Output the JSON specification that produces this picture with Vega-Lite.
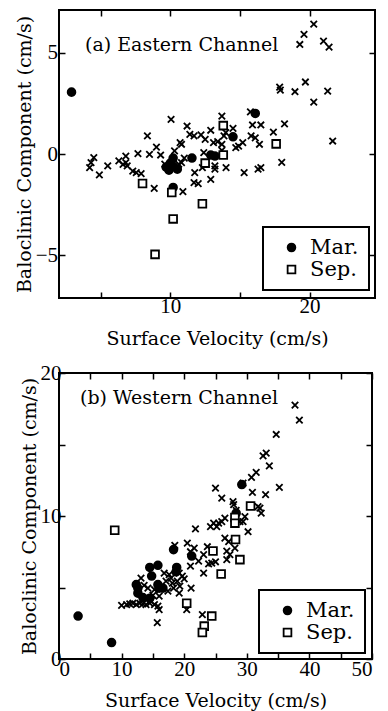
{
  "$schema": "https://vega.github.io/schema/vega-lite/v6.json",
  "padding": {"left": 14, "top": 8, "right": 0, "bottom": 0},
  "config": {
    "view": {"stroke": "black", "strokeWidth": 2},
    "font": "DejaVu Serif",
    "axis": {"domain": false, "grid": false, "labelFont": "Liberation Serif", "labelFontSize": 21, "labelColor": "black", "titleFont": "DejaVu Serif", "titleFontSize": 19, "titleFontWeight": "normal", "titleColor": "black", "tickColor": "black", "tickSize": -6, "tickWidth": 1.5, "labelPadding": 8},
    "legend": {"padding": 10, "strokeColor": "black", "strokeWidth": 2, "fillColor": "white", "labelFont": "DejaVu Serif", "labelFontSize": 21, "labelColor": "black", "labelOffset": 8, "rowPadding": 0, "symbolSize": 60, "symbolStrokeColor": "black", "symbolStrokeWidth": 1.8, "symbolOffset": 8},
    "title": {"font": "DejaVu Serif", "fontSize": 19, "fontWeight": "normal", "color": "black"}
  },
  "datasets": {
    "east": [
      {"x": 2.9, "y": 3.05, "type": "Mar."}, {"x": 16.1, "y": 2.0, "type": "Mar."}, {"x": 14.5, "y": 0.85, "type": "Mar."}, {"x": 11.55, "y": -0.2, "type": "Mar."}, {"x": 12.9, "y": -0.05, "type": "Mar."}, {"x": 13.2, "y": -0.1, "type": "Mar."}, {"x": 10.0, "y": -0.45, "type": "Mar."}, {"x": 10.2, "y": -0.6, "type": "Mar."}, {"x": 10.5, "y": -0.75, "type": "Mar."}, {"x": 9.7, "y": -0.65, "type": "Mar."}, {"x": 10.2, "y": -0.2, "type": "Mar."}, {"x": 10.2, "y": -1.65, "type": "Mar."}, {"x": 9.9, "y": -0.8, "type": "Mar."},
      {"x": 13.8, "y": 1.4, "type": "Sep."}, {"x": 17.6, "y": 0.5, "type": "Sep."}, {"x": 12.5, "y": -0.45, "type": "Sep."}, {"x": 13.8, "y": -0.05, "type": "Sep."}, {"x": 8.0, "y": -1.45, "type": "Sep."}, {"x": 10.1, "y": -1.9, "type": "Sep."}, {"x": 12.3, "y": -2.45, "type": "Sep."}, {"x": 10.2, "y": -3.2, "type": "Sep."}, {"x": 8.9, "y": -4.95, "type": "Sep."},
      {"x": 19.3, "y": 5.4, "type": "other"}, {"x": 19.6, "y": 5.9, "type": "other"}, {"x": 20.3, "y": 6.4, "type": "other"}, {"x": 21.0, "y": 5.57, "type": "other"}, {"x": 21.4, "y": 5.27, "type": "other"},
      {"x": 17.85, "y": 3.3, "type": "other"}, {"x": 17.9, "y": 3.15, "type": "other"}, {"x": 18.95, "y": 3.07, "type": "other"}, {"x": 19.7, "y": 3.55, "type": "other"}, {"x": 21.3, "y": 3.1, "type": "other"}, {"x": 20.3, "y": 2.56, "type": "other"}, {"x": 21.66, "y": 0.64, "type": "other"},
      {"x": 15.75, "y": 2.08, "type": "other"}, {"x": 13.7, "y": 1.87, "type": "other"}, {"x": 10.05, "y": 1.71, "type": "other"}, {"x": 11.2, "y": 1.38, "type": "other"}, {"x": 14.5, "y": 1.26, "type": "other"}, {"x": 15.9, "y": 1.43, "type": "other"}, {"x": 16.5, "y": 1.43, "type": "other"}, {"x": 18.2, "y": 1.49, "type": "other"}, {"x": 17.4, "y": 1.08, "type": "other"},
      {"x": 15.8, "y": 0.89, "type": "other"}, {"x": 16.1, "y": 0.8, "type": "other"}, {"x": 16.4, "y": 0.48, "type": "other"}, {"x": 8.35, "y": 0.89, "type": "other"}, {"x": 9.0, "y": 0.34, "type": "other"}, {"x": 10.7, "y": 0.56, "type": "other"},
      {"x": 11.4, "y": 0.97, "type": "other"}, {"x": 11.7, "y": 0.89, "type": "other"}, {"x": 12.2, "y": 0.94, "type": "other"}, {"x": 12.5, "y": 0.72, "type": "other"}, {"x": 12.9, "y": 1.17, "type": "other"}, {"x": 13.85, "y": 0.89, "type": "other"}, {"x": 13.98, "y": 1.05, "type": "other"},
      {"x": 13.1, "y": 0.56, "type": "other"}, {"x": 13.4, "y": 0.61, "type": "other"}, {"x": 13.7, "y": 0.48, "type": "other"}, {"x": 15.2, "y": 0.56, "type": "other"}, {"x": 14.9, "y": 0.39, "type": "other"}, {"x": 14.7, "y": 0.31, "type": "other"}, {"x": 10.8, "y": 0.48, "type": "other"},
      {"x": 7.67, "y": 0.02, "type": "other"}, {"x": 8.5, "y": -0.02, "type": "other"}, {"x": 6.8, "y": -0.1, "type": "other"}, {"x": 4.5, "y": -0.18, "type": "other"}, {"x": 4.3, "y": -0.43, "type": "other"}, {"x": 4.2, "y": -0.67, "type": "other"}, {"x": 4.9, "y": -1.03, "type": "other"}, {"x": 5.5, "y": -0.59, "type": "other"},
      {"x": 6.3, "y": -0.34, "type": "other"}, {"x": 6.6, "y": -0.51, "type": "other"}, {"x": 6.9, "y": -0.59, "type": "other"}, {"x": 6.8, "y": -0.43, "type": "other"}, {"x": 7.3, "y": -0.84, "type": "other"}, {"x": 7.9, "y": -0.97, "type": "other"}, {"x": 7.55, "y": -0.92, "type": "other"},
      {"x": 8.84, "y": -1.69, "type": "other"}, {"x": 9.3, "y": -0.05, "type": "other"}, {"x": 10.3, "y": 0.15, "type": "other"}, {"x": 10.8, "y": -0.43, "type": "other"}, {"x": 12.4, "y": 0.07, "type": "other"}, {"x": 13.7, "y": 0.18, "type": "other"}, {"x": 13.2, "y": -0.59, "type": "other"}, {"x": 13.2, "y": -0.75, "type": "other"}, {"x": 14.0, "y": -0.67, "type": "other"}, {"x": 12.3, "y": -0.67, "type": "other"}, {"x": 11.75, "y": -0.92, "type": "other"}, {"x": 12.9, "y": -1.25, "type": "other"}, {"x": 11.7, "y": -1.41, "type": "other"}, {"x": 12.0, "y": -1.46, "type": "other"}, {"x": 10.9, "y": -1.86, "type": "other"}, {"x": 15.3, "y": -0.92, "type": "other"}, {"x": 16.3, "y": -0.75, "type": "other"}, {"x": 18.0, "y": -0.41, "type": "other"}, {"x": 16.5, "y": -0.67, "type": "other"}, {"x": 9.6, "y": -0.5, "type": "other"}, {"x": 10.6, "y": -0.5, "type": "other"}, {"x": 11.0, "y": -0.2, "type": "other"}
    ],
    "west": [
      {"x": 3.05, "y": 3.0, "type": "Mar."}, {"x": 8.4, "y": 1.15, "type": "Mar."}, {"x": 29.2, "y": 12.2, "type": "Mar."}, {"x": 28.3, "y": 10.2, "type": "Mar."}, {"x": 18.3, "y": 7.65, "type": "Mar."}, {"x": 21.2, "y": 7.2, "type": "Mar."}, {"x": 14.5, "y": 6.4, "type": "Mar."}, {"x": 15.8, "y": 6.55, "type": "Mar."}, {"x": 18.8, "y": 6.4, "type": "Mar."}, {"x": 18.7, "y": 6.1, "type": "Mar."}, {"x": 14.8, "y": 5.8, "type": "Mar."}, {"x": 12.35, "y": 5.2, "type": "Mar."}, {"x": 12.6, "y": 4.6, "type": "Mar."}, {"x": 13.4, "y": 4.3, "type": "Mar."}, {"x": 14.5, "y": 4.25, "type": "Mar."}, {"x": 15.8, "y": 5.2, "type": "Mar."}, {"x": 16.0, "y": 4.95, "type": "Mar."}, {"x": 16.6, "y": 4.95, "type": "Mar."}, {"x": 12.6, "y": 4.95, "type": "Mar."},
      {"x": 8.9, "y": 9.0, "type": "Sep."}, {"x": 30.6, "y": 10.7, "type": "Sep."}, {"x": 28.1, "y": 9.9, "type": "Sep."}, {"x": 28.1, "y": 9.5, "type": "Sep."}, {"x": 28.2, "y": 8.35, "type": "Sep."}, {"x": 24.6, "y": 7.55, "type": "Sep."}, {"x": 28.9, "y": 6.95, "type": "Sep."}, {"x": 25.9, "y": 5.95, "type": "Sep."}, {"x": 20.4, "y": 3.9, "type": "Sep."}, {"x": 24.4, "y": 3.0, "type": "Sep."}, {"x": 23.2, "y": 2.3, "type": "Sep."}, {"x": 22.9, "y": 1.85, "type": "Sep."},
      {"x": 37.7, "y": 17.75, "type": "other"}, {"x": 38.4, "y": 16.7, "type": "other"}, {"x": 34.7, "y": 15.7, "type": "other"}, {"x": 32.6, "y": 14.2, "type": "other"}, {"x": 33.1, "y": 14.4, "type": "other"}, {"x": 33.6, "y": 13.5, "type": "other"}, {"x": 31.5, "y": 13.05, "type": "other"}, {"x": 30.75, "y": 12.7, "type": "other"}, {"x": 29.4, "y": 12.3, "type": "other"}, {"x": 35.2, "y": 12.0, "type": "other"}, {"x": 25.0, "y": 11.95, "type": "other"}, {"x": 30.9, "y": 11.65, "type": "other"}, {"x": 33.0, "y": 11.5, "type": "other"}, {"x": 26.0, "y": 11.25, "type": "other"}, {"x": 27.8, "y": 11.0, "type": "other"}, {"x": 27.9, "y": 10.8, "type": "other"}, {"x": 31.8, "y": 10.65, "type": "other"}, {"x": 32.1, "y": 10.55, "type": "other"}, {"x": 32.3, "y": 10.2, "type": "other"}, {"x": 28.3, "y": 10.4, "type": "other"},
      {"x": 26.5, "y": 9.85, "type": "other"}, {"x": 26.0, "y": 9.6, "type": "other"}, {"x": 25.5, "y": 9.5, "type": "other"}, {"x": 24.7, "y": 9.5, "type": "other"}, {"x": 24.2, "y": 9.25, "type": "other"}, {"x": 25.2, "y": 9.25, "type": "other"}, {"x": 29.4, "y": 9.6, "type": "other"}, {"x": 29.7, "y": 9.95, "type": "other"}, {"x": 28.9, "y": 9.6, "type": "other"}, {"x": 21.8, "y": 9.1, "type": "other"}, {"x": 30.2, "y": 8.9, "type": "other"}, {"x": 26.5, "y": 8.45, "type": "other"}, {"x": 27.1, "y": 8.2, "type": "other"},
      {"x": 18.5, "y": 7.95, "type": "other"}, {"x": 20.5, "y": 8.1, "type": "other"}, {"x": 21.6, "y": 7.75, "type": "other"}, {"x": 21.0, "y": 7.5, "type": "other"}, {"x": 23.1, "y": 7.3, "type": "other"}, {"x": 23.7, "y": 7.85, "type": "other"}, {"x": 26.8, "y": 7.55, "type": "other"}, {"x": 28.1, "y": 7.75, "type": "other"}, {"x": 27.3, "y": 7.3, "type": "other"},
      {"x": 21.0, "y": 6.5, "type": "other"}, {"x": 22.3, "y": 6.85, "type": "other"}, {"x": 23.9, "y": 6.65, "type": "other"}, {"x": 24.4, "y": 6.7, "type": "other"}, {"x": 25.0, "y": 6.8, "type": "other"}, {"x": 26.8, "y": 6.95, "type": "other"}, {"x": 23.1, "y": 6.0, "type": "other"},
      {"x": 16.8, "y": 6.0, "type": "other"}, {"x": 17.6, "y": 5.9, "type": "other"}, {"x": 17.9, "y": 5.65, "type": "other"}, {"x": 19.2, "y": 6.0, "type": "other"}, {"x": 19.7, "y": 5.8, "type": "other"}, {"x": 20.0, "y": 5.6, "type": "other"}, {"x": 17.1, "y": 5.45, "type": "other"}, {"x": 18.1, "y": 5.3, "type": "other"}, {"x": 18.9, "y": 5.45, "type": "other"}, {"x": 17.4, "y": 4.75, "type": "other"}, {"x": 18.3, "y": 4.95, "type": "other"}, {"x": 19.3, "y": 5.1, "type": "other"}, {"x": 19.2, "y": 4.6, "type": "other"}, {"x": 21.1, "y": 4.95, "type": "other"},
      {"x": 13.1, "y": 5.65, "type": "other"}, {"x": 13.6, "y": 5.15, "type": "other"}, {"x": 14.2, "y": 4.95, "type": "other"}, {"x": 15.25, "y": 4.85, "type": "other"}, {"x": 15.0, "y": 4.45, "type": "other"}, {"x": 16.0, "y": 4.4, "type": "other"},
      {"x": 10.0, "y": 3.75, "type": "other"}, {"x": 10.8, "y": 3.8, "type": "other"}, {"x": 11.3, "y": 3.85, "type": "other"}, {"x": 11.8, "y": 3.9, "type": "other"}, {"x": 12.35, "y": 3.8, "type": "other"}, {"x": 12.9, "y": 3.9, "type": "other"}, {"x": 13.4, "y": 3.85, "type": "other"}, {"x": 13.9, "y": 3.8, "type": "other"}, {"x": 14.5, "y": 3.9, "type": "other"}, {"x": 14.7, "y": 4.05, "type": "other"}, {"x": 15.25, "y": 3.8, "type": "other"}, {"x": 15.8, "y": 3.7, "type": "other"}, {"x": 16.0, "y": 3.45, "type": "other"}, {"x": 15.7, "y": 2.55, "type": "other"}, {"x": 20.4, "y": 3.45, "type": "other"}, {"x": 22.9, "y": 3.1, "type": "other"}
    ]
  },
  "columns": 1,
  "spacing": 12,
  "resolve": {"scale": {"shape": "independent", "fill": "independent", "stroke": "independent"}, "legend": {"shape": "independent", "fill": "independent", "stroke": "independent"}},
  "concat": [
    {
      "width": 316,
      "height": 288,
      "data": {"name": "east"},
      "title": {"text": "(a) Eastern Channel", "anchor": "start", "frame": "group", "orient": "top", "offset": -61, "dx": 26, "baseline": "alphabetic"},
      "layer": [
        {
          "transform": [{"filter": "datum.type === 'other'"}],
          "mark": {"type": "point", "shape": "M-1,-1L1,1M1,-1L-1,1", "size": 42, "stroke": "black", "strokeWidth": 1.8, "opacity": 1},
          "encoding": {
            "x": {"field": "x", "type": "quantitative", "scale": {"domain": [2, 24.7], "nice": false, "zero": false}, "axis": {"orient": "bottom", "values": [5, 10, 15, 20], "labelExpr": "datum.value % 10 === 0 ? datum.label : ''", "title": "Surface Velocity (cm/s)", "labelPadding": 3, "titlePadding": 13}},
            "y": {"field": "y", "type": "quantitative", "scale": {"domain": [-7.1, 7.1], "nice": false, "zero": false}, "axis": {"orient": "left", "values": [-5, 0, 5], "title": "Baloclinic Component (cm/s)", "labelPadding": 7.5, "titlePadding": 1}}
          }
        },
        {
          "transform": [{"filter": "datum.type !== 'other'"}],
          "mark": {"type": "point", "strokeWidth": 1.8, "size": 60, "opacity": 1},
          "encoding": {
            "x": {"field": "x", "type": "quantitative", "axis": null},
            "y": {"field": "y", "type": "quantitative", "axis": null},
            "shape": {"field": "type", "type": "nominal", "scale": {"domain": ["Mar.", "Sep."], "range": ["circle", "square"]}, "legend": {"title": null, "orient": "none", "legendX": 204, "legendY": 217}},
            "fill": {"field": "type", "type": "nominal", "scale": {"domain": ["Mar.", "Sep."], "range": ["black", "white"]}, "legend": {"title": null, "orient": "none", "legendX": 204, "legendY": 217}},
            "stroke": {"field": "type", "type": "nominal", "scale": {"domain": ["Mar.", "Sep."], "range": ["black", "black"]}, "legend": {"title": null, "orient": "none", "legendX": 204, "legendY": 217}}
          }
        },
        {
          "mark": {"type": "point", "opacity": 0},
          "encoding": {
            "x": {"field": "x", "type": "quantitative", "axis": {"orient": "top", "values": [5, 10, 15, 20], "labels": false, "title": null}},
            "y": {"field": "y", "type": "quantitative", "axis": {"orient": "right", "values": [-5, 0, 5], "labels": false, "title": null}}
          }
        }
      ],
      "resolve": {"axis": {"x": "independent", "y": "independent"}}
    },
    {
      "width": 313,
      "height": 286,
      "data": {"name": "west"},
      "title": {"text": "(b) Western Channel", "anchor": "start", "frame": "group", "orient": "top", "offset": -61, "dx": 21, "baseline": "alphabetic"},
      "layer": [
        {
          "transform": [{"filter": "datum.type === 'other'"}],
          "mark": {"type": "point", "shape": "M-1,-1L1,1M1,-1L-1,1", "size": 42, "stroke": "black", "strokeWidth": 1.8, "opacity": 1},
          "encoding": {
            "x": {"field": "x", "type": "quantitative", "scale": {"domain": [0, 50], "nice": false}, "axis": {"orient": "bottom", "values": [0, 5, 10, 15, 20, 25, 30, 35, 40, 45, 50], "labelExpr": "datum.value % 10 === 0 ? datum.label : ''", "title": "Surface Velocity (cm/s)", "labelPadding": 5, "titlePadding": 12}},
            "y": {"field": "y", "type": "quantitative", "scale": {"domain": [0, 20], "nice": false}, "axis": {"orient": "left", "values": [0, 5, 10, 15, 20], "labelExpr": "datum.value % 10 === 0 ? datum.label : ''", "title": "Baloclinic Component (cm/s)", "labelPadding": 4, "titlePadding": 1}}
          }
        },
        {
          "transform": [{"filter": "datum.type !== 'other'"}],
          "mark": {"type": "point", "strokeWidth": 1.8, "size": 60, "opacity": 1},
          "encoding": {
            "x": {"field": "x", "type": "quantitative", "axis": null},
            "y": {"field": "y", "type": "quantitative", "axis": null},
            "shape": {"field": "type", "type": "nominal", "scale": {"domain": ["Mar.", "Sep."], "range": ["circle", "square"]}, "legend": {"title": null, "orient": "none", "legendX": 200, "legendY": 217}},
            "fill": {"field": "type", "type": "nominal", "scale": {"domain": ["Mar.", "Sep."], "range": ["black", "white"]}, "legend": {"title": null, "orient": "none", "legendX": 200, "legendY": 217}},
            "stroke": {"field": "type", "type": "nominal", "scale": {"domain": ["Mar.", "Sep."], "range": ["black", "black"]}, "legend": {"title": null, "orient": "none", "legendX": 200, "legendY": 217}}
          }
        },
        {
          "mark": {"type": "point", "opacity": 0},
          "encoding": {
            "x": {"field": "x", "type": "quantitative", "axis": {"orient": "top", "values": [0, 5, 10, 15, 20, 25, 30, 35, 40, 45, 50], "labels": false, "title": null}},
            "y": {"field": "y", "type": "quantitative", "axis": {"orient": "right", "values": [0, 5, 10, 15, 20], "labels": false, "title": null}}
          }
        }
      ],
      "resolve": {"axis": {"x": "independent", "y": "independent"}}
    }
  ]
}
